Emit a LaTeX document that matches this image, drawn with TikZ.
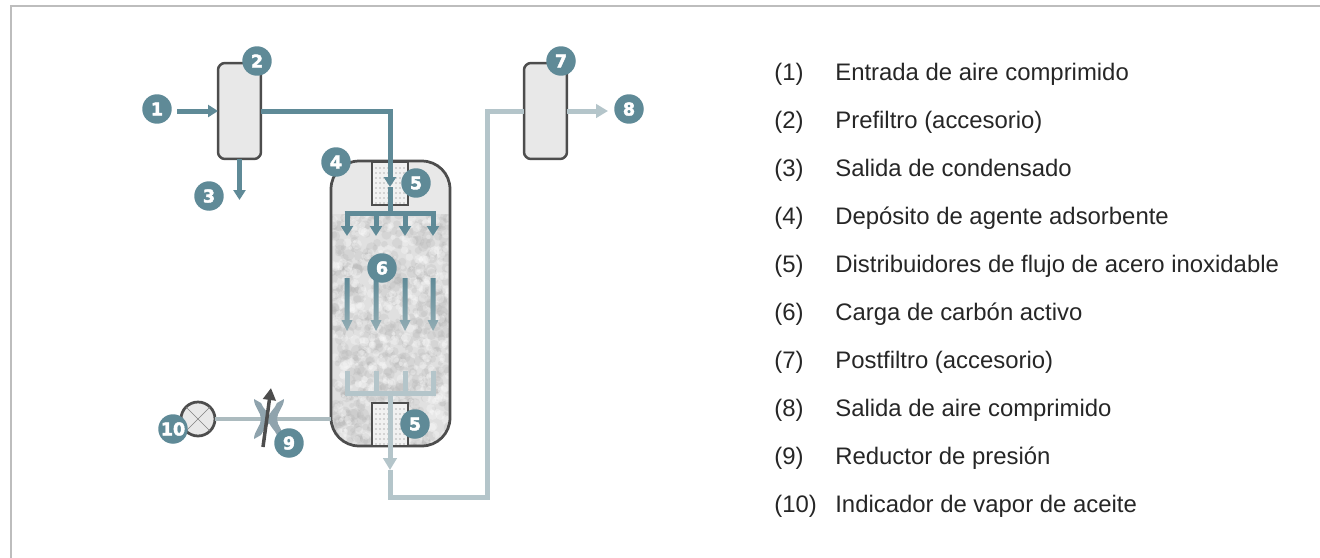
\documentclass[tikz,border=0pt]{standalone}
\usepackage{fontspec}
\setmainfont{Liberation Sans}
\newfontfamily\badgefont[BoldFeatures={FakeBold=2.5}]{DejaVu Sans}
\usetikzlibrary{arrows.meta}
\definecolor{teal1}{HTML}{5F8A97}
\definecolor{teal2}{HTML}{93ADB4}
\definecolor{pale1}{HTML}{B4C5CA}
\definecolor{wall}{HTML}{4D4D4D}
\definecolor{shell}{HTML}{E8E8E8}
\definecolor{frame}{HTML}{BDBDBD}
\definecolor{throttlegray}{HTML}{8FA3AD}
\tikzset{
badge/.style={circle,fill=teal1,text=white,inner sep=0pt,outer sep=0pt,minimum size=0.59cm,font=\badgefont\bfseries\fontsize{10}{10}\selectfont},
filterbox/.style={draw=wall,fill=shell,line width=0.05cm,rounded corners=0.14cm,minimum width=0.86cm,minimum height=1.92cm,inner sep=0pt,outer sep=0pt},
distbox/.style={draw=wall,fill=shell!60!white,line width=0.05cm,minimum width=0.72cm,minimum height=0.86cm,inner sep=0pt,outer sep=0pt},
inflow/.style={draw=teal1,line width=0.1cm},
outflow/.style={draw=pale1,line width=0.1cm},
intip/.style={-{Triangle[length=0.2cm,width=0.24cm]}},
outtip/.style={-{Triangle[length=0.24cm,width=0.27cm]}},
legend/.style={anchor=base west,inner sep=0pt,text=black!85,font=\fontsize{13.6}{16}\selectfont}
}
\begin{document}
\begin{tikzpicture}[x=0.02cm,y=-0.02cm]
\useasboundingbox (0,0) rectangle (1320,558);
\draw[frame,line width=0.04cm] (11,558) -- (11,6) -- (1320,6);
\node[fill=shell,rounded corners=0.56cm,minimum width=2.38cm,minimum height=5.7cm,inner sep=0pt,outer sep=0pt] (tank) at (390.5,303.5) {};
\begin{scope}
\clip[rounded corners=0.56cm] (tank.south west) rectangle (tank.north east);
\clip (331,214) rectangle (450,446);
\fill[black!12] (331,214) rectangle (450,446);
\pgfmathsetseed{4711}
\foreach \i in {1,...,620} {
\pgfmathsetmacro{\bx}{331+119*rnd}
\pgfmathsetmacro{\by}{214+232*rnd}
\pgfmathsetmacro{\br}{0.04+0.08*rnd}
\fill[black!32,opacity=0.2] (\bx,\by) circle (\br cm);
}
\foreach \i in {1,...,420} {
\pgfmathsetmacro{\bx}{331+119*rnd}
\pgfmathsetmacro{\by}{214+232*rnd}
\pgfmathsetmacro{\br}{0.03+0.07*rnd}
\fill[white,opacity=0.28] (\bx,\by) circle (\br cm);
}
\end{scope}
\draw[wall,line width=0.055cm,rounded corners=0.56cm] (tank.south west) rectangle (tank.north east);
\node[distbox] (topdist) at (390,183.5) {};
\node[distbox] (botdist) at (390,424.5) {};
\foreach \y in {168,173,...,203} \foreach \x in {376,380,...,406} {
\fill[black!55] (\x,\y) circle (0.012cm);
\fill[black!55] (\x,\y+241) circle (0.012cm);
}
\node[filterbox] (prefilter) at (239.5,111) {};
\node[filterbox] (postfilter) at (545.5,111) {};
\node[draw=wall,fill=shell,circle,line width=0.055cm,minimum size=0.68cm,inner sep=0pt,outer sep=0pt] (indicator) at (198,419) {};
\draw[gray,line width=0.012cm] (indicator.45) -- (indicator.225);
\draw[gray,line width=0.012cm] (indicator.135) -- (indicator.315);
\coordinate (throttle) at (269,419);
\draw[pale1!85!gray,line width=0.07cm] (indicator) -- (throttle) -- (tank.west |- throttle);
\fill[throttlegray] (254,399) -- (261,403) .. controls (263,409) and (270,413) .. (270,419) .. controls (270,425) and (263,430) .. (261,435) -- (254,439) .. controls (254,431) and (261,426) .. (261,419) .. controls (261,412) and (254,407) .. (254,399) -- cycle;
\fill[throttlegray] (284,399) -- (277,403) .. controls (275,409) and (268,413) .. (268,419) .. controls (268,425) and (275,430) .. (277,435) -- (284,439) .. controls (284,431) and (277,426) .. (277,419) .. controls (277,412) and (284,407) .. (284,399) -- cycle;
\coordinate (adjfoot) at (263,447);
\coordinate (adjtip) at (271,388);
\draw[wall,line width=0.07cm,-{Triangle[length=0.24cm,width=0.25cm]}] (adjfoot) -- (adjtip);
\coordinate (airin) at (177,111);
\coordinate (topjoin) at (390,187);
\coordinate (topbar) at (390,213);
\coordinate (drain) at (239.5,200);
\draw[inflow,intip] (airin) -- (prefilter);
\draw[inflow,intip] (prefilter) -| (topjoin);
\draw[inflow] (topjoin) -- (topbar);
\draw[inflow] (344.5,213) -- (435.5,213);
\draw[inflow,intip] (prefilter) -- (prefilter |- drain);
\foreach \x in {347,376,405,433} {
\coordinate (up\x) at (\x,211);
\coordinate (ue\x) at (\x,236);
\draw[inflow,intip] (up\x) -- (ue\x);
\shade[top color=teal1,bottom color=teal2] (\x-2.5,278) -- (\x+2.5,278) -- (\x+2.5,320) -- (\x+5.5,320) -- (\x,331) -- (\x-5.5,320) -- (\x-2.5,320) -- cycle;
\coordinate (br\x) at (\x,395);
\coordinate (bt\x) at (\x,371);
\draw[outflow] (br\x) -- (bt\x);
}
\coordinate (botbar) at (390,393);
\coordinate (botjoin) at (390,470);
\draw[outflow] (344.5,393) -- (435.5,393);
\draw[outflow,outtip] (botbar) -- (botjoin);
\draw[outflow] (botjoin) |- (487.5,497) |- (postfilter);
\coordinate (outend) at (608,111);
\draw[outflow,outtip] (postfilter) -- (outend);
\node[badge] (n1) at (157,109) {1};
\node[badge] (n2) at (257,61) {2};
\node[badge] (n3) at (209,196) {3};
\node[badge] (n4) at (336,162) {4};
\node[badge] (n5a) at (416,183) {5};
\node[badge] (n5b) at (415,424) {5};
\node[badge] (n6) at (382,268) {6};
\node[badge] (n7) at (561,61) {7};
\node[badge] (n8) at (629,109) {8};
\node[badge] (n9) at (289,443) {9};
\node[badge] (n10) at (173,429) {10};
\foreach \k/\lab [count=\r from 0] in {(1)/Entrada de aire comprimido,(2)/Prefiltro (accesorio),(3)/Salida de condensado,(4)/Depósito de agente adsorbente,(5)/Distribuidores de flujo de acero inoxidable,(6)/Carga de carbón activo,(7)/Postfiltro (accesorio),(8)/Salida de aire comprimido,(9)/Reductor de presión,(10)/Indicador de vapor de aceite} {
\node[legend] (num\r) at (774,80+48*\r) {\k};
\node[legend] (txt\r) at (835,80+48*\r) {\lab};
}
\end{tikzpicture}
\end{document}
